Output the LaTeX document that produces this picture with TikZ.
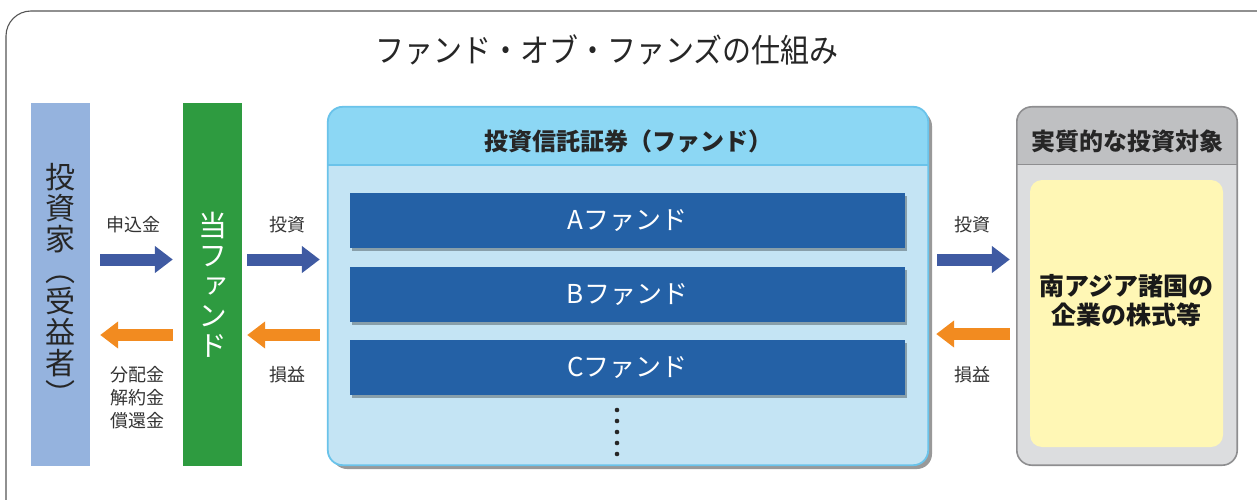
\documentclass[tikz,border=0pt]{standalone}
\usepackage{fontspec}
\setmainfont{Noto Sans CJK JP}
\newfontfamily\vjp[RawFeature=+vert]{Noto Sans CJK JP}
\usetikzlibrary{arrows.meta,shadows,calc}
\definecolor{framec}{HTML}{555555}
\definecolor{invc}{HTML}{95B3DE}
\definecolor{greenc}{HTML}{2E9B40}
\definecolor{bluea}{HTML}{3F5AA2}
\definecolor{orangea}{HTML}{F28B20}
\definecolor{fofhdr}{HTML}{8CD7F4}
\definecolor{fofbody}{HTML}{C4E4F4}
\definecolor{fofline}{HTML}{6AC3EA}
\definecolor{fundc}{HTML}{2461A6}
\definecolor{grayhdr}{HTML}{BFC0C2}
\definecolor{graybody}{HTML}{DCDDDF}
\definecolor{grayline}{HTML}{8E8E90}
\definecolor{yelc}{HTML}{FFF7B5}
\definecolor{txtc}{HTML}{333333}
\tikzset{
  colbox/.style={inner sep=0pt, minimum width=59pt, minimum height=363pt, align=center},
  barrow/.style={draw=bluea, line width=12pt, -{Triangle[length=18pt,width=26pt]}},
  oarrow/.style={draw=orangea, line width=12pt, -{Triangle[length=18pt,width=26pt]}},
  lbl/.style={text=txtc, font=\fontsize{18}{23}\selectfont, align=center, inner sep=0pt},
  fundbox/.style={fill=fundc, text=white, minimum width=555pt, minimum height=55pt, inner sep=0pt,
     font=\fontsize{26}{30}\selectfont,
     drop shadow={shadow xshift=2pt, shadow yshift=-2.5pt, fill=black, opacity=0.3}},
  hdrtext/.style={font=\bfseries\fontsize{24}{28}\selectfont, text=black!85, inner sep=0pt},
}
\begin{document}
\begin{tikzpicture}[x=1pt,y=-1pt]
\useasboundingbox (0,0) rectangle (1257,500);
\begin{scope}
  \clip (0,0) rectangle (1257,500);
  \draw[framec, line width=1.1pt, rounded corners=25pt] (6,11) rectangle (1285,530);
\end{scope}

\node[inner sep=0pt, text=black!85] (title) at (607,50)
  {\fontsize{29}{32}\selectfont\scalebox{1}[1.12]{ファンド・オブ・ファンズの仕組み}};

% investor and this fund
\node[colbox, fill=invc, text=black!85, font=\vjp\fontsize{30}{31}\selectfont] (inv) at (60.5,284.5)
  {投\\資\\家\\（\\受\\益\\者\\）};
\node[colbox, fill=greenc, text=white, font=\vjp\fontsize{29}{30}\selectfont] (fund) at (212.5,284.5)
  {当\\フ\\ァ\\ン\\ド};

% fund of funds box
\node[inner sep=0pt, minimum width=600pt, minimum height=358pt, fill=fofbody,
      rounded corners=15pt,
      drop shadow={shadow xshift=4pt, shadow yshift=-4pt, fill=black, opacity=0.4}] (fof) at (628,286) {};
\begin{scope}
  \clip[rounded corners=15pt] (fof.north west) rectangle (fof.south east);
  \fill[fofhdr] (fof.north west) rectangle ($(fof.north east)+(0,58)$);
\end{scope}
\draw[fofline, line width=1.5pt] ($(fof.north west)+(0,58)$) -- ($(fof.north east)+(0,58)$);
\draw[fofline, line width=1.8pt, rounded corners=15pt] (fof.north west) rectangle (fof.south east);
\node[hdrtext] (fofh) at ($(fof.north)+(0,35)$) {投資信託証券（ファンド）};

\node[fundbox] (fa) at (627.5,220.5) {Aファンド};
\node[fundbox] (fb) at (627.5,294.5) {Bファンド};
\node[fundbox] (fc) at (627.5,367.5) {Cファンド};
\foreach \yy in {410,421,432,443,454} \fill[black!85] (617,\yy) circle (2.3pt);

% target box
\node[inner sep=0pt, minimum width=220pt, minimum height=358pt, fill=graybody,
      rounded corners=15pt] (tgt) at (1127,286) {};
\begin{scope}
  \clip[rounded corners=15pt] (tgt.north west) rectangle (tgt.south east);
  \fill[grayhdr] (tgt.north west) rectangle ($(tgt.north east)+(0,58)$);
\end{scope}
\draw[grayline, line width=1.3pt] ($(tgt.north west)+(0,58)$) -- ($(tgt.north east)+(0,58)$);
\draw[grayline, line width=1.6pt, rounded corners=15pt] (tgt.north west) rectangle (tgt.south east);
\node[hdrtext] (tgth) at ($(tgt.north)+(0,35)$) {実質的な投資対象};
\node[inner sep=0pt, minimum width=193pt, minimum height=267pt, fill=yelc, rounded corners=12pt] (yel) at (1126.5,313.5) {};
\node[inner sep=0pt, align=center, text=black!90, font=\bfseries\fontsize{25}{29}\selectfont] (yeltext) at (1126.5,301)
  {南アジア諸国の\\企業の株式等};

% arrows
\draw[barrow] ([xshift=10pt,yshift=25pt]inv.east) -- ([xshift=-10pt,yshift=25pt]fund.west);
\draw[oarrow] ([xshift=-10pt,yshift=-50.5pt]fund.west) -- ([xshift=10pt,yshift=-50.5pt]inv.east);
\draw[barrow] ([xshift=5pt,yshift=25pt]fund.east) -- ([xshift=-8pt,yshift=26.5pt]fof.west);
\draw[oarrow] ([xshift=-8pt,yshift=-49pt]fof.west) -- ([xshift=5pt,yshift=-50.5pt]fund.east);
\draw[barrow] ([xshift=9pt,yshift=26.5pt]fof.east) -- ([xshift=-7pt,yshift=26.5pt]tgt.west);
\draw[oarrow] ([xshift=-7pt,yshift=-48pt]tgt.west) -- ([xshift=8pt,yshift=-48pt]fof.east);

% labels
\node[lbl] (l1) at (133,225) {申込金};
\node[lbl] (l2) at (137,398) {分配金\\解約金\\償還金};
\node[lbl] (l3) at (287,225) {投資};
\node[lbl] (l4) at (287,375) {損益};
\node[lbl] (l5) at (972,225) {投資};
\node[lbl] (l6) at (972,375) {損益};
\end{tikzpicture}
\end{document}
